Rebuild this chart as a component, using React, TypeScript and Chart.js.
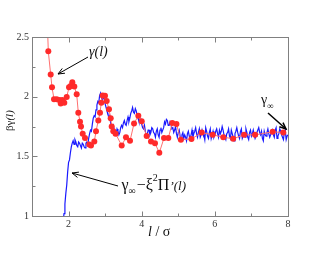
import React, { useEffect, useRef } from "react";
import { Chart, registerables } from "chart.js";

Chart.register(...registerables);

// axis ranges and tick values
const X_MIN = 1;
const X_MAX = 8;
const Y_MIN = 1;
const Y_MAX = 2.5;
const xTickValues = [1, 2, 3, 4, 5, 6, 7, 8];
const xTickLabels = ["", "2", "", "4", "", "6", "", "8"];
const yTickValues = [1, 1.25, 1.5, 1.75, 2, 2.25, 2.5];
const yTickLabels = ["1", "", "1.5", "", "2", "", "2.5"];

// gamma(l): red symbols
const gammaX = [
  1.40, 1.446, 1.511, 1.547, 1.602, 1.675, 1.747, 1.785, 1.829, 1.883, 1.949,
  2.012, 2.058, 2.102, 2.157, 2.222, 2.266, 2.313, 2.34, 2.386, 2.449, 2.567,
  2.613, 2.704, 2.75, 2.813, 2.859, 2.895, 2.933, 2.996, 3.043, 3.105, 3.152,
  3.179, 3.223, 3.285, 3.453, 3.57, 3.68, 3.79, 3.907, 4.0, 4.135, 4.254,
  4.363, 4.481, 4.61, 4.727, 4.836, 4.95, 5.07, 5.36, 5.64, 5.94, 6.23, 6.5,
  6.8, 7.1, 7.58, 7.87,
];
const gammaY = [
  2.8, 2.38, 2.185, 2.078, 1.979, 1.979, 1.973, 1.942, 1.973, 1.95, 1.998,
  2.078, 2.09, 2.12, 2.086, 2.02, 1.866, 1.79, 1.75, 1.69, 1.654, 1.6,
  1.59, 1.625, 1.71, 1.8, 1.866, 1.95, 2.01, 2.007, 1.964, 1.894, 1.82,
  1.75, 1.71, 1.69, 1.59, 1.66, 1.63, 1.775, 1.84, 1.795, 1.67, 1.625,
  1.61, 1.53, 1.654, 1.654, 1.78, 1.77, 1.64, 1.645, 1.7, 1.68, 1.66, 1.648,
  1.68, 1.68, 1.705, 1.7,
];

// gamma_inf - xi^2 Pi'(l): blue line, sampled on a uniform grid from 1.85
const BLUE_X0 = 1.85;
const BLUE_DX = 0.025;
const blueY = [
  0.95, 1.02, 1.10, 1.19, 1.26, 1.37, 1.45, 1.47, 1.53, 1.58,
  1.61, 1.63, 1.60, 1.64, 1.62, 1.59, 1.58, 1.62, 1.61, 1.59,
  1.57, 1.61, 1.60, 1.58, 1.57, 1.61, 1.62, 1.60, 1.65, 1.69,
  1.72, 1.71, 1.77, 1.82, 1.84, 1.83, 1.89, 1.93, 1.96, 1.95,
  2.01, 2.03, 1.99, 1.97, 2.01, 1.98, 1.94, 1.91, 1.88, 1.86,
  1.82, 1.84, 1.78, 1.75, 1.74, 1.76, 1.72, 1.68, 1.69, 1.73,
  1.71, 1.68, 1.70, 1.74, 1.76, 1.74, 1.78, 1.80, 1.77, 1.76,
  1.80, 1.83, 1.79, 1.82, 1.86, 1.88, 1.91, 1.87, 1.86, 1.90,
  1.88, 1.84, 1.82, 1.79, 1.79, 1.81, 1.77, 1.74, 1.73, 1.76,
  1.71, 1.67, 1.68, 1.72, 1.72, 1.68, 1.70, 1.74, 1.73, 1.70,
  1.69, 1.66, 1.71, 1.73, 1.68, 1.66, 1.72, 1.74, 1.70, 1.72,
  1.74, 1.79, 1.77, 1.81, 1.80, 1.76, 1.76, 1.79, 1.77, 1.73,
  1.74, 1.70, 1.72, 1.75, 1.69, 1.66, 1.70, 1.72, 1.67, 1.64,
  1.68, 1.70, 1.65, 1.68, 1.66, 1.63, 1.69, 1.71, 1.67, 1.65,
  1.68, 1.72, 1.66, 1.69, 1.71, 1.74, 1.69, 1.66, 1.70, 1.73,
  1.66, 1.68, 1.72, 1.69, 1.68, 1.64, 1.74, 1.71, 1.67, 1.65,
  1.70, 1.73, 1.65, 1.68, 1.71, 1.66, 1.68, 1.71, 1.73, 1.69,
  1.66, 1.72, 1.69, 1.71, 1.75, 1.72, 1.68, 1.66, 1.64, 1.69,
  1.70, 1.73, 1.67, 1.65, 1.72, 1.69, 1.66, 1.63, 1.69, 1.71,
  1.74, 1.70, 1.67, 1.65, 1.71, 1.73, 1.65, 1.67, 1.69, 1.66,
  1.73, 1.70, 1.66, 1.64, 1.70, 1.72, 1.67, 1.69, 1.72, 1.68,
  1.65, 1.67, 1.70, 1.72, 1.74, 1.70, 1.68, 1.71, 1.65, 1.63,
  1.71, 1.68, 1.67, 1.70, 1.73, 1.69, 1.66, 1.68, 1.70, 1.72,
  1.68, 1.66, 1.72, 1.74, 1.65, 1.67, 1.69, 1.73, 1.71, 1.68,
  1.66, 1.64, 1.70, 1.72, 1.64, 1.67, 1.68,
];

const SERIF = '"Liberation Serif", "DejaVu Serif", serif';

function arrow(
  ctx: CanvasRenderingContext2D,
  x1: number,
  y1: number,
  x2: number,
  y2: number,
  width: number,
  head: number
) {
  const ang = Math.atan2(y2 - y1, x2 - x1);
  ctx.save();
  ctx.strokeStyle = "#000";
  ctx.lineWidth = width;
  ctx.beginPath();
  ctx.moveTo(x1, y1);
  ctx.lineTo(x2, y2);
  ctx.stroke();
  ctx.beginPath();
  ctx.moveTo(x2 - head * Math.cos(ang - 0.4), y2 - head * Math.sin(ang - 0.4));
  ctx.lineTo(x2, y2);
  ctx.lineTo(x2 - head * Math.cos(ang + 0.4), y2 - head * Math.sin(ang + 0.4));
  ctx.stroke();
  ctx.restore();
}

function pieces(
  ctx: CanvasRenderingContext2D,
  x: number,
  y: number,
  parts: { t: string; f: string; dy?: number; dx?: number }[]
) {
  let cx = x;
  for (const p of parts) {
    ctx.font = p.f;
    cx += p.dx || 0;
    ctx.fillText(p.t, cx, y + (p.dy || 0));
    cx += ctx.measureText(p.t).width;
  }
}

const decor = {
  id: "decor",
  afterDraw(chart: any) {
    const { ctx, chartArea: a, scales } = chart;
    const xs = scales.x;
    const ys = scales.y;
    ctx.save();
    // frame
    ctx.strokeStyle = "#808080";
    ctx.lineWidth = 1;
    const L = Math.round(a.left) + 0.5;
    const T = Math.round(a.top) + 0.5;
    const R = Math.round(a.right) + 0.5;
    const B = Math.round(a.bottom) + 0.5;
    ctx.strokeRect(L, T, R - L, B - T);
    // inward ticks
    ctx.beginPath();
    xTickValues.forEach((v, i) => {
      const px = Math.round(xs.getPixelForValue(v)) + 0.5;
      const len = xTickLabels[i] ? 5 : 3;
      if (v === X_MIN || v === X_MAX) return;
      ctx.moveTo(px, B);
      ctx.lineTo(px, B - len);
      ctx.moveTo(px, T);
      ctx.lineTo(px, T + len);
    });
    yTickValues.forEach((v, i) => {
      const py = Math.round(ys.getPixelForValue(v)) + 0.5;
      const len = yTickLabels[i] ? 5 : 3;
      if (v === Y_MIN || v === Y_MAX) return;
      ctx.moveTo(L, py);
      ctx.lineTo(L + len, py);
    });
    ctx.stroke();

    ctx.fillStyle = "#111";
    ctx.textBaseline = "alphabetic";
    ctx.textAlign = "left";

    // x title: l / σ
    pieces(ctx, 148, 236, [
      { t: "l", f: `italic 14px ${SERIF}` },
      { t: " / σ", f: `14px ${SERIF}` },
    ]);

    // y title: βγ(l), rotated
    ctx.save();
    ctx.translate(13, 131);
    ctx.rotate(-Math.PI / 2);
    pieces(ctx, 0, 0, [
      { t: "βγ", f: `11px ${SERIF}` },
      { t: "(l)", f: `italic 11px ${SERIF}` },
    ]);
    ctx.restore();

    // γ(l) annotation
    pieces(ctx, 89, 56, [{ t: "γ(l)", f: `italic 14px ${SERIF}` }]);
    arrow(ctx, 88, 57, 58, 74, 1, 7);

    // γ∞ annotation
    pieces(ctx, 261, 104, [
      { t: "γ", f: `14px ${SERIF}` },
      { t: "∞", f: `9px ${SERIF}`, dy: 5 },
    ]);
    arrow(ctx, 268, 113, 286, 129, 1.5, 7);

    // γ∞ − ξ²Π'(l) annotation
    pieces(ctx, 121.5, 190, [
      { t: "γ", f: `16px ${SERIF}` },
      { t: "∞", f: `10px ${SERIF}`, dy: 4 },
      { t: "−", f: `16px ${SERIF}`, dx: 1 },
      { t: "ξ", f: `16px ${SERIF}` },
      { t: "2", f: `10px ${SERIF}`, dy: -9 },
      { t: "Π", f: `16px ${SERIF}` },
      { t: "’(l)", f: `italic 13px ${SERIF}` },
    ]);
    arrow(ctx, 118, 186, 72, 173, 1, 7);

    ctx.restore();
  },
};

export default function App() {
  const ref = useRef<HTMLCanvasElement | null>(null);

  useEffect(() => {
    document.body.style.margin = "0";
    const canvas = ref.current;
    if (!canvas) return;
    const gammaData = gammaX.map((x, i) => ({ x, y: gammaY[i] }));
    const blueData = blueY.map((y, i) => ({ x: BLUE_X0 + i * BLUE_DX, y }));
    const chart = new Chart(canvas, {
      type: "scatter",
      data: {
        datasets: [
          {
            label: "gamma",
            data: gammaData,
            showLine: true,
            borderColor: "#ff7070",
            borderWidth: 1,
            backgroundColor: "#ff2a2a",
            pointBackgroundColor: "#ff2a2a",
            pointBorderColor: "#ff2a2a",
            pointBorderWidth: 0,
            pointRadius: 3,
            order: 0,
          },
          {
            label: "blue",
            data: blueData,
            showLine: true,
            borderColor: "#1a1aff",
            borderWidth: 1.2,
            pointRadius: 0,
            tension: 0,
            order: 1,
          },
        ],
      },
      options: {
        responsive: false,
        animation: false,
        devicePixelRatio: 1,
        layout: { padding: { left: 0, top: 37, right: 37, bottom: 0 } },
        plugins: {
          legend: { display: false },
          tooltip: { enabled: false },
        },
        scales: {
          x: {
            type: "linear",
            min: X_MIN,
            max: X_MAX,
            afterFit: (s: any) => {
              s.height = 39;
            },
            afterBuildTicks: (s: any) => {
              s.ticks = xTickValues.map((v) => ({ value: v }));
            },
            grid: { display: false, drawTicks: false },
            border: { display: false },
            ticks: {
              autoSkip: false,
              maxRotation: 0,
              padding: 2,
              color: "#333",
              font: { family: SERIF, size: 10 },
              callback: (v: any) => {
                const i = xTickValues.indexOf(Number(v));
                return i >= 0 ? xTickLabels[i] : "";
              },
            },
          },
          y: {
            type: "linear",
            min: Y_MIN,
            max: Y_MAX,
            afterFit: (s: any) => {
              s.width = 32;
            },
            afterBuildTicks: (s: any) => {
              s.ticks = yTickValues.map((v) => ({ value: v }));
            },
            grid: { display: false, drawTicks: false },
            border: { display: false },
            ticks: {
              autoSkip: false,
              padding: 3,
              color: "#333",
              font: { family: SERIF, size: 10 },
              callback: (v: any) => {
                const i = yTickValues.indexOf(Number(v));
                return i >= 0 ? yTickLabels[i] : "";
              },
            },
          },
        },
      },
      plugins: [decor],
    });
    return () => chart.destroy();
  }, []);

  return (
    <div style={{ position: "absolute", left: 0, top: 0, width: 325, height: 255 }}>
      <canvas ref={ref} width={325} height={255} style={{ width: 325, height: 255 }} />
    </div>
  );
}
